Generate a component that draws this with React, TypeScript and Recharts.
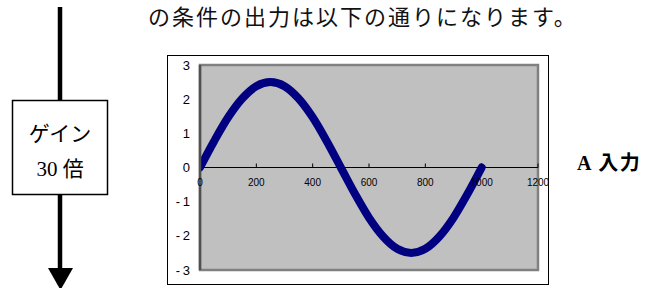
import React from "react";
import { LineChart, Line, XAxis, YAxis, CartesianGrid, ReferenceLine, ReferenceArea } from "recharts";

const xValues = [0, 50, 100, 150, 200, 250, 300, 350, 400, 450, 500, 550, 600, 650, 700, 750, 800, 850, 900, 950, 1000];
const outputValues = [0, 0.77, 1.47, 2.02, 2.38, 2.5, 2.38, 2.02, 1.47, 0.77, 0, -0.77, -1.47, -2.02, -2.38, -2.5, -2.38, -2.02, -1.47, -0.77, 0];
const xTicks = [0, 200, 400, 600, 800, 1000, 1200];
const yTicks = [-3, -2, -1, 0, 1, 2, 3];
const titleText = "の条件の出力は以下の通りになります。";
const gainLabel = "ゲイン";
const gainValue = "30 倍";
const inputLabel = "A 入力";

const data = xValues.map((x, i) => ({ x, y: outputValues[i] }));

const PLOT_TOP = 65;
const PLOT_BOTTOM = 270;
const ZERO_Y = (PLOT_TOP + PLOT_BOTTOM) / 2;

const XTick = (props: any) => {
  const { x, payload } = props;
  return (
    <g>
      {payload.value !== 0 ? (
        <line x1={x} x2={x} y1={ZERO_Y - 4} y2={ZERO_Y} stroke="#000" strokeWidth={1} />
      ) : null}
      <text x={x} y={ZERO_Y + 18} textAnchor="middle" fontSize={10} fill="#000" fontFamily="Liberation Sans, Arial, sans-serif">
        {payload.value}
      </text>
    </g>
  );
};

const formatY = (v: number) => (v < 0 ? `-\u2009${Math.abs(v)}` : `${v}`);

export default function App() {
  return (
    <div style={{ position: "absolute", left: 0, top: 0, width: 657, height: 288, background: "#fff", overflow: "hidden" }}>
      <div
        style={{
          position: "absolute",
          left: 148,
          top: 0,
          lineHeight: "30px",
          fontSize: 22,
          letterSpacing: 2,
          whiteSpace: "nowrap",
          fontFamily: "'Noto Sans CJK JP', sans-serif",
          color: "#111",
        }}
      >
        {titleText}
      </div>

      <svg width={657} height={288} style={{ position: "absolute", left: 0, top: 0 }}>
        <line x1={60} x2={60} y1={7} y2={100} stroke="#000" strokeWidth={4.5} />
        <line x1={60} x2={60} y1={195} y2={272} stroke="#000" strokeWidth={4.5} />
        <polygon points="48,268 73,268 60.5,290" fill="#000" />
        <rect x={12.5} y={100.5} width={95} height={94} fill="#fff" stroke="#000" strokeWidth={1.5} />
        <rect x={167.5} y={55.5} width={381} height={229} fill="#fff" stroke="#000" strokeWidth={1} />
      </svg>

      <div
        style={{
          position: "absolute",
          left: 12,
          top: 117,
          width: 96,
          textAlign: "center",
          fontSize: 21,
          lineHeight: "30px",
          fontFamily: "'Noto Sans CJK JP', sans-serif",
          color: "#000",
        }}
      >
        {gainLabel}
      </div>
      <div
        style={{
          position: "absolute",
          left: 12,
          top: 154,
          width: 96,
          textAlign: "center",
          fontSize: 21,
          lineHeight: "30px",
          fontFamily: "'Liberation Serif', 'Noto Sans CJK JP', serif",
          color: "#000",
        }}
      >
        {gainValue}
      </div>

      <div
        style={{
          position: "absolute",
          left: 577,
          top: 148,
          fontSize: 20,
          letterSpacing: 1.5,
          lineHeight: "30px",
          fontWeight: "bold",
          whiteSpace: "nowrap",
          fontFamily: "'Liberation Serif', 'Noto Sans CJK JP', serif",
          color: "#000",
        }}
      >
        {inputLabel}
      </div>

      <div style={{ position: "absolute", left: 0, top: 0 }}>
        <LineChart width={657} height={288} data={data} margin={{ top: PLOT_TOP, right: 119, bottom: 0, left: 170 }}>
          <ReferenceArea x1={0} x2={1200} y1={-3} y2={3} fill="#c0c0c0" fillOpacity={1} stroke="none" />
          <CartesianGrid horizontal={true} vertical={false} stroke="#000" strokeWidth={1} fill="none" />
          <ReferenceArea x1={0} x2={1200} y1={-3} y2={3} fill="none" fillOpacity={0} stroke="#808080" strokeWidth={2.5} />
          <XAxis
            dataKey="x"
            type="number"
            domain={[0, 1200]}
            ticks={xTicks}
            height={18}
            axisLine={false}
            tickLine={false}
            tick={<XTick />}
            interval={0}
            allowDataOverflow
          />
          <YAxis
            type="number"
            domain={[-3, 3]}
            ticks={yTicks}
            width={30}
            axisLine={{ stroke: "#505050", strokeWidth: 2.5 }}
            tickLine={false}
            tickSize={0}
            tickMargin={10}
            interval={0}
            tickFormatter={formatY}
            tick={{ fontSize: 13, fill: "#000", fontFamily: "Liberation Sans, Arial, sans-serif" }}
            allowDataOverflow
          />
          <ReferenceLine y={0} stroke="#000" strokeWidth={1} />
          <Line
            type="monotone"
            dataKey="y"
            stroke="#000080"
            strokeWidth={8}
            strokeLinecap="round"
            dot={false}
            isAnimationActive={false}
          />
        </LineChart>
      </div>
    </div>
  );
}
